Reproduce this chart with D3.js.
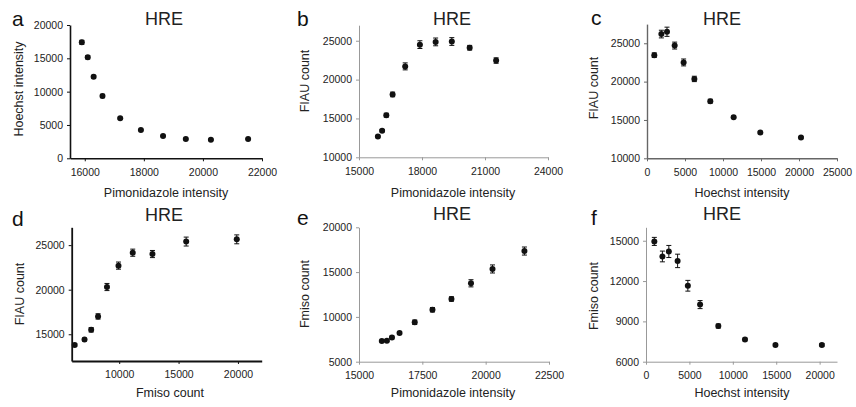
<!DOCTYPE html>
<html>
<head>
<meta charset="utf-8">
<script src="https://cdn.jsdelivr.net/npm/d3@7"></script>
<style>
  body { margin: 0; background: #fff; }
  svg { display: block; font-family: "Liberation Sans", Arial, sans-serif; }
  .tick text { font-size: 10.5px; fill: #222; }
  .axis-title { font-size: 12.5px; fill: #222; }
  .panel-title { font-size: 18px; fill: #222; }
  .panel-letter { font-size: 21px; fill: #111; }
</style>
</head>
<body>
<div id="chart"></div>
<script>
// bins used on the x axes
const pimoBins = [15900, 16100, 16300, 16600, 17200, 17900, 18650, 19420, 20270, 21530];
const hoechstBins = [960, 1890, 2630, 3640, 4820, 6230, 8330, 11400, 14910, 20260];
const fmisoBins = [6250, 7080, 7640, 8220, 8970, 9940, 11140, 12800, 15640, 19900];

// a: Hoechst vs pimonidazole
const hoechstByPimo = [17400, 15150, 12240, 9345, 6000, 4245, 3345, 2895, 2790, 2895];
const hoechstByPimoErr = [300, 250, 200, 250, 150, 100, 100, 100, 100, 100];
// b: FIAU vs pimonidazole
const fiauByPimo = [12670, 13430, 15420, 18090, 21700, 24500, 24850, 24900, 24100, 22450];
const fiauByPimoErr = [150, 150, 250, 300, 450, 500, 500, 500, 300, 350];
// c: FIAU vs Hoechst
const fiauByHoechst = [23450, 26200, 26500, 24700, 22500, 20350, 17450, 15350, 13350, 12700];
const fiauByHoechstErr = [300, 500, 600, 450, 450, 350, 250, 150, 150, 150];
// d: FIAU vs Fmiso
const fiauByFmiso = [13800, 14400, 15500, 17000, 20300, 22700, 24150, 24000, 25400, 25650];
const fiauByFmisoErr = [150, 150, 250, 300, 400, 400, 400, 400, 500, 500];
// e: Fmiso vs pimonidazole
const fmisoByPimo = [7300, 7350, 7700, 8200, 9400, 10800, 12000, 13750, 15350, 17350];
const fmisoByPimoErr = [100, 100, 150, 150, 250, 250, 250, 400, 450, 450];
// f: Fmiso vs Hoechst
const fmisoByHoechst = [14950, 13830, 14200, 13500, 11650, 10250, 8650, 7650, 7250, 7250];
const fmisoByHoechstErr = [300, 400, 450, 500, 400, 300, 150, 100, 100, 100];

const panels = [
  { letter: 'a', x: pimoBins, y: hoechstByPimo, err: hoechstByPimoErr,
    xTitle: 'Pimonidazole intensity', yTitle: 'Hoechst intensity',
    xDomain: [15500, 22000], xTicks: [16000, 18000, 20000, 22000],
    yDomain: [0, 20000], yTicks: [0, 5000, 10000, 15000, 20000],
    left: 70, right: 262, top: 25, bottom: 158.3, axisColor: '#111', axisWidth: 1.6,
    letterPos: [12, 26], titlePos: [164, 25], xTitlePos: [166, 197], yTitlePos: [23, 89] },
  { letter: 'b', x: pimoBins, y: fiauByPimo, err: fiauByPimoErr,
    xTitle: 'Pimonidazole intensity', yTitle: 'FIAU count',
    xDomain: [15000, 24000], xTicks: [15000, 18000, 21000, 24000],
    yDomain: [10000, 27000], yTicks: [10000, 15000, 20000, 25000],
    left: 359, right: 548, top: 25.2, bottom: 157.3, axisColor: '#999', axisWidth: 1,
    letterPos: [297, 26], titlePos: [452, 25], xTitlePos: [453, 197], yTitlePos: [309, 81] },
  { letter: 'c', x: hoechstBins, y: fiauByHoechst, err: fiauByHoechstErr,
    xTitle: 'Hoechst intensity', yTitle: 'FIAU count',
    xDomain: [0, 25000], xTicks: [0, 5000, 10000, 15000, 20000, 25000],
    yDomain: [10000, 27500], yTicks: [10000, 15000, 20000, 25000],
    left: 647, right: 837, top: 24.1, bottom: 158.3, axisColor: '#666', axisWidth: 1.4,
    letterPos: [591, 25], titlePos: [722, 25], xTitlePos: [742, 197], yTitlePos: [598, 88] },
  { letter: 'd', x: fmisoBins, y: fiauByFmiso, err: fiauByFmisoErr,
    xTitle: 'Fmiso count', yTitle: 'FIAU count',
    xDomain: [6000, 22000], xTicks: [10000, 15000, 20000],
    yDomain: [12000, 27000], yTicks: [15000, 20000, 25000],
    left: 71.7, right: 261.7, top: 227.3, bottom: 361, axisColor: '#111', axisWidth: 1.8,
    letterPos: [12, 226], titlePos: [164, 221], xTitlePos: [170, 397], yTitlePos: [24, 294] },
  { letter: 'e', x: pimoBins, y: fmisoByPimo, err: fmisoByPimoErr,
    xTitle: 'Pimonidazole intensity', yTitle: 'Fmiso count',
    xDomain: [15000, 22500], xTicks: [15000, 17500, 20000, 22500],
    yDomain: [5000, 20000], yTicks: [5000, 10000, 15000, 20000],
    left: 359, right: 549, top: 227.3, bottom: 361.7, axisColor: '#999', axisWidth: 1,
    letterPos: [297, 225], titlePos: [452, 220], xTitlePos: [453, 397], yTitlePos: [309, 294] },
  { letter: 'f', x: hoechstBins, y: fmisoByHoechst, err: fmisoByHoechstErr,
    xTitle: 'Hoechst intensity', yTitle: 'Fmiso count',
    xDomain: [0, 22000], xTicks: [0, 5000, 10000, 15000, 20000],
    yDomain: [6000, 16000], yTicks: [6000, 9000, 12000, 15000],
    left: 646, right: 837, top: 227.3, bottom: 361.7, axisColor: '#999', axisWidth: 1,
    letterPos: [591, 225], titlePos: [722, 220], xTitlePos: [742, 397], yTitlePos: [598, 296] },
];

const svg = d3.select('#chart').append('svg').attr('width', 856).attr('height', 407);
svg.append('rect').attr('width', 856).attr('height', 407).attr('fill', '#fff');

function drawPanel(p) {
  const g = svg.append('g').attr('class', 'panel');
  const x = d3.scaleLinear().domain(p.xDomain).range([p.left, p.right]);
  const y = d3.scaleLinear().domain(p.yDomain).range([p.bottom, p.top]);

  const xAxis = g.append('g')
    .attr('transform', `translate(0,${p.bottom})`)
    .call(d3.axisBottom(x).tickValues(p.xTicks).tickFormat(d3.format('d')).tickSize(3).tickSizeOuter(0).tickPadding(7));
  const yAxis = g.append('g')
    .attr('transform', `translate(${p.left},0)`)
    .call(d3.axisLeft(y).tickValues(p.yTicks).tickFormat(d3.format('d')).tickSize(3).tickSizeOuter(0).tickPadding(4));

  [xAxis, yAxis].forEach((ax) => {
    ax.select('.domain').attr('stroke', p.axisColor).attr('stroke-width', p.axisWidth);
    ax.selectAll('.tick line').attr('stroke', p.axisColor).attr('stroke-width', 1);
  });

  const pts = p.x.map((xv, i) => ({ x: xv, y: p.y[i], e: p.err[i] }));

  const bars = g.append('g').attr('stroke', '#111').attr('stroke-width', 1);
  bars.selectAll('line.err')
    .data(pts)
    .join('line')
    .attr('class', 'err')
    .attr('x1', (d) => x(d.x)).attr('x2', (d) => x(d.x))
    .attr('y1', (d) => y(d.y - d.e)).attr('y2', (d) => y(d.y + d.e));
  ['cap-hi', 'cap-lo'].forEach((cls, k) => {
    bars.selectAll(`line.${cls}`)
      .data(pts)
      .join('line')
      .attr('class', cls)
      .attr('x1', (d) => x(d.x) - 2.5).attr('x2', (d) => x(d.x) + 2.5)
      .attr('y1', (d) => y(k === 0 ? d.y + d.e : d.y - d.e))
      .attr('y2', (d) => y(k === 0 ? d.y + d.e : d.y - d.e));
  });

  g.append('g').selectAll('circle')
    .data(pts)
    .join('circle')
    .attr('cx', (d) => x(d.x))
    .attr('cy', (d) => y(d.y))
    .attr('r', 3)
    .attr('fill', '#111');

  g.append('text').attr('class', 'panel-letter')
    .attr('x', p.letterPos[0]).attr('y', p.letterPos[1]).text(p.letter);
  g.append('text').attr('class', 'panel-title').attr('text-anchor', 'middle')
    .attr('x', p.titlePos[0]).attr('y', p.titlePos[1]).text('HRE');
  g.append('text').attr('class', 'axis-title').attr('text-anchor', 'middle')
    .attr('x', p.xTitlePos[0]).attr('y', p.xTitlePos[1]).text(p.xTitle);
  g.append('text').attr('class', 'axis-title').attr('text-anchor', 'middle')
    .attr('transform', `translate(${p.yTitlePos[0]},${p.yTitlePos[1]}) rotate(-90)`)
    .text(p.yTitle);
}

panels.forEach(drawPanel);
</script>
</body>
</html>
